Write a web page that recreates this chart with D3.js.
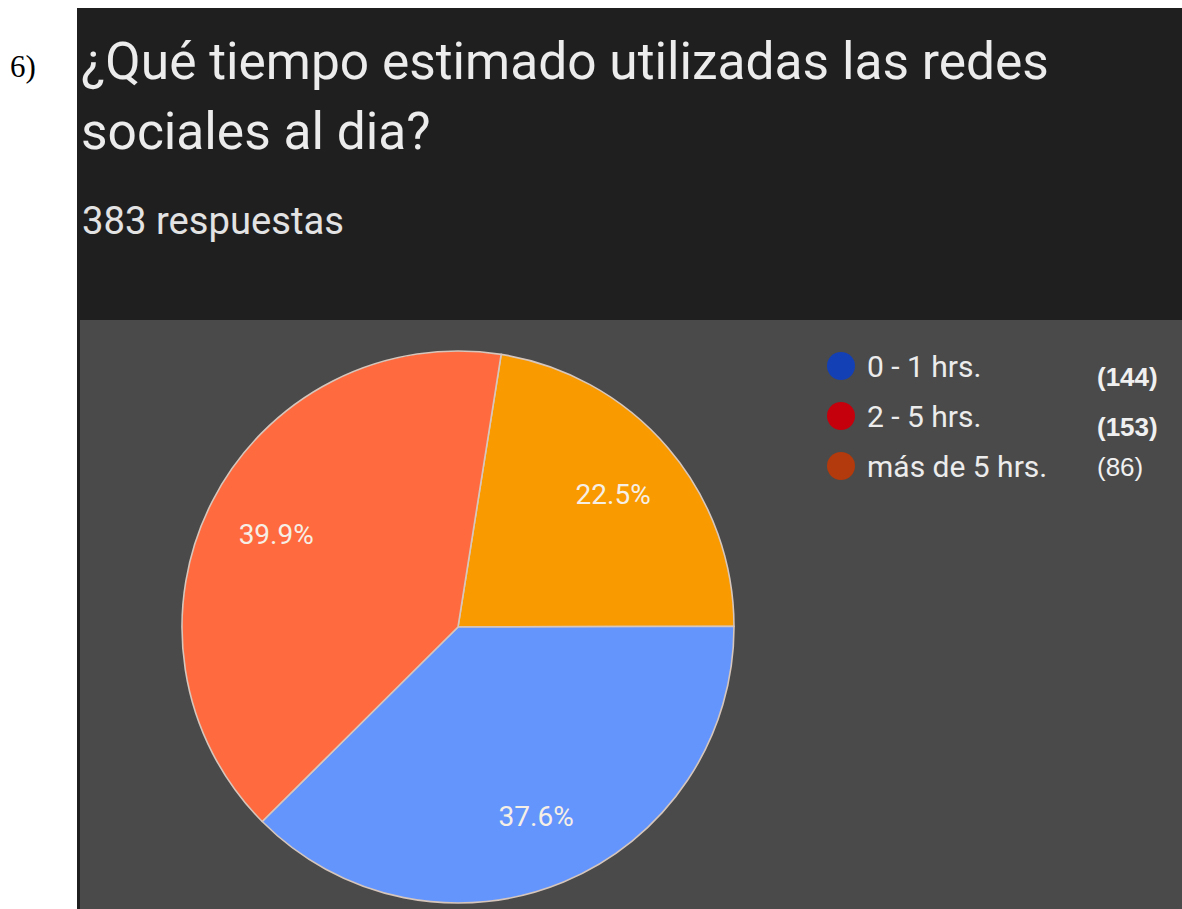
<!DOCTYPE html>
<html>
<head>
<meta charset="utf-8">
<script src="https://cdn.jsdelivr.net/npm/d3@7"></script>
<style>
  html, body { margin: 0; padding: 0; background: #ffffff; }
  svg { display: block; }
</style>
</head>
<body>
<script>
// Survey answers: daily time spent on social networks
const categories = ["0 - 1 hrs.", "2 - 5 hrs.", "más de 5 hrs."];
const counts = [144, 153, 86];
const percentLabels = ["37.6%", "39.9%", "22.5%"];
const questionNumber = "6)";
const titleLines = ["¿Qué tiempo estimado utilizadas las redes", "sociales al dia?"];
const responsesText = "383 respuestas";

const W = 1182, H = 909;
const sliceColors = ["#6495fc", "#ff6a3f", "#f99a00"];
const legendColors = ["#1440b6", "#c5000c", "#b23a0c"];

const svg = d3.select("body").append("svg")
  .attr("width", W).attr("height", H);

// fit a text element's font size so that it spans the given width
function fitWidth(sel, base, width) {
  sel.attr("font-size", base);
  const w = sel.node().getComputedTextLength();
  const size = base * width / w;
  sel.attr("font-size", size);
  return size;
}

// question number, outside the card
svg.append("text")
  .attr("x", 10).attr("y", 77)
  .attr("font-family", "'Liberation Serif', 'Times New Roman', serif")
  .attr("font-size", 31)
  .attr("fill", "#000")
  .text(questionNumber);

// dark header card and grey chart area
svg.append("rect").attr("x", 77).attr("y", 8).attr("width", W - 77).attr("height", H - 8)
  .attr("fill", "#1f1f1f");
svg.append("rect").attr("x", 80).attr("y", 320).attr("width", W - 80).attr("height", H - 320)
  .attr("fill", "#4a4a4a");

// title
const t1 = svg.append("text")
  .attr("x", 81).attr("y", 79)
  .attr("font-family", "Roboto, sans-serif")
  .attr("fill", "#ececec")
  .text(titleLines[0]);
const titleSize = fitWidth(t1, 48, 968);
svg.append("text")
  .attr("x", 81).attr("y", 149)
  .attr("font-family", "Roboto, sans-serif")
  .attr("font-size", titleSize)
  .attr("fill", "#ececec")
  .text(titleLines[1]);

const resp = svg.append("text")
  .attr("x", 82).attr("y", 234)
  .attr("font-family", "Roboto, sans-serif")
  .attr("fill", "#e3e3e3")
  .text(responsesText);
fitWidth(resp, 36, 262);

// pie
const cx = 458, cy = 627, R = 276;
const startAngle = 9 * Math.PI / 180;
// drawing order around the circle: orange, blue, red
const order = [2, 0, 1];
const pie = d3.pie()
  .sort(null)
  .value(i => counts[i])
  .startAngle(startAngle)
  .endAngle(startAngle + 2 * Math.PI);
const arcs = pie(order);
const arc = d3.arc().innerRadius(0).outerRadius(R);
const labelArc = d3.arc().innerRadius(R * 0.74).outerRadius(R * 0.74);

const pieG = svg.append("g").attr("transform", `translate(${cx},${cy})`);
pieG.selectAll("path.slice")
  .data(arcs)
  .join("path")
  .attr("class", "slice")
  .attr("d", arc)
  .attr("fill", d => sliceColors[d.data])
  .attr("stroke", "#d6c6bc")
  .attr("stroke-width", 1.6)
  .attr("stroke-linejoin", "round");

pieG.selectAll("text.pct")
  .data(arcs)
  .join("text")
  .attr("class", "pct")
  .attr("transform", d => `translate(${labelArc.centroid(d)})`)
  .attr("text-anchor", "middle")
  .attr("dy", "0.36em")
  .attr("font-family", "Roboto, sans-serif")
  .attr("font-size", 28)
  .attr("fill", "#f6efe6")
  .text(d => percentLabels[d.data]);

// legend
const legY = d3.scaleBand().domain(d3.range(categories.length)).range([341, 491]);
const rows = svg.append("g").selectAll("g")
  .data(categories)
  .join("g")
  .attr("transform", (d, i) => `translate(0,${legY(i) + legY.bandwidth() / 2})`);
rows.append("circle")
  .attr("cx", 841).attr("cy", 0).attr("r", 14)
  .attr("fill", (d, i) => legendColors[i]);
rows.append("text")
  .attr("x", 867).attr("dy", "0.36em")
  .attr("font-family", "Roboto, sans-serif")
  .attr("font-size", 30)
  .attr("fill", "#ececec")
  .text(d => d);
// response counts, set slightly apart from the labels
rows.append("text")
  .attr("x", 1097)
  .attr("dy", (d, i) => i === 2 ? "0.4em" : "0.75em")
  .attr("font-family", (d, i) => i === 2 ? "'Liberation Sans Narrow', sans-serif" : "'Liberation Sans', Arial, sans-serif")
  .attr("font-weight", (d, i) => i === 2 ? "normal" : "bold")
  .attr("font-size", 26)
  .attr("fill", "#f0f0f0")
  .text((d, i) => `(${counts[i]})`);
</script>
</body>
</html>
